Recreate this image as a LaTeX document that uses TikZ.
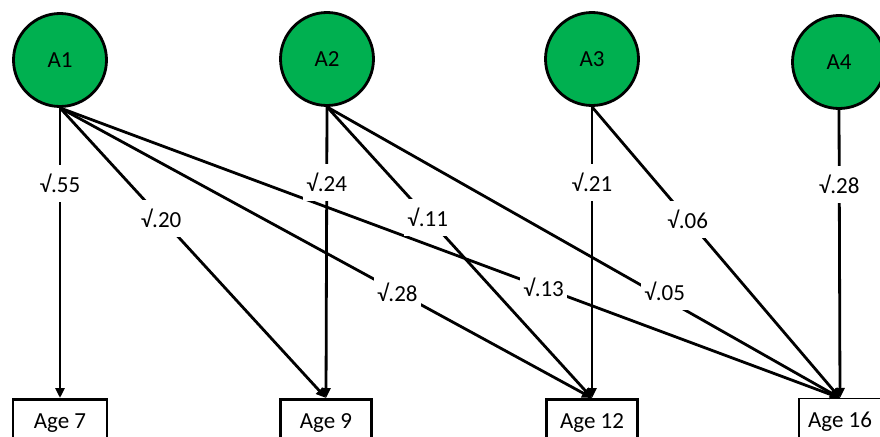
\documentclass[tikz,border=0pt]{standalone}
\usepackage{fontspec}
\setmainfont{Carlito}
\usetikzlibrary{arrows.meta}
\definecolor{og}{RGB}{0,176,80}
\begin{document}
\begin{tikzpicture}[x=1pt,y=-1pt,
  font=\fontsize{23}{27}\selectfont,
  latent/.style={circle,draw,line width=2.8pt,fill=og,minimum size=93pt,inner sep=0pt},
  agebox/.style={draw,line width=2.8pt,anchor=north,minimum width=#1,inner xsep=0pt,inner ysep=14pt,text height=15pt,text depth=30pt},
  eff/.style={line width=2.8pt,-{Triangle[length=10pt,width=9pt]}},
  lab/.style={fill=white,inner xsep=3pt,inner ysep=9pt}]
\useasboundingbox (0,0) rectangle (880,436);
\clip (0,0) rectangle (880,436);
\node[latent] (A1) at (60,60) {A1};
\node[latent] (A2) at (327,59) {A2};
\node[latent] (A3) at (592,59) {A3};
\node[latent] (A4) at (839,62) {A4};
\node[agebox=94pt] (b7) at (60,398) {Age 7};
\node[agebox=91pt] (b9) at (326,398) {Age 9};
\node[agebox=91pt] (b12) at (592,398) {Age 12};
\node[agebox=82pt,line width=1.2pt] (b16) at (840,398) {Age 16};
\draw[eff] (A1.south) -- (b7.north) node[lab,pos=.26]{√.55};
\draw[eff] (A1.south) -- (b9.north) node[lab,pos=.38]{√.20};
\draw[eff] (A1.south) -- (b12.north) node[lab,pos=.634]{√.28};
\draw[eff] (A1.south) -- (b16.north) node[lab,pos=.62]{√.13};
\draw[eff] (A2.south) -- (b9.north) node[lab,pos=.26]{√.24};
\draw[eff] (A2.south) -- (b12.north) node[lab,pos=.38]{√.11};
\draw[eff] (A2.south) -- (b16.north) node[lab,pos=.635,xshift=12pt]{√.05};
\draw[eff] (A3.south) -- (b12.north) node[lab,pos=.26]{√.21};
\draw[eff] (A3.south) -- (b16.north) node[lab,pos=.386]{√.06};
\draw[eff] (A4.south) -- (b16.north) node[lab,pos=.26]{√.28};
\end{tikzpicture}
\end{document}
